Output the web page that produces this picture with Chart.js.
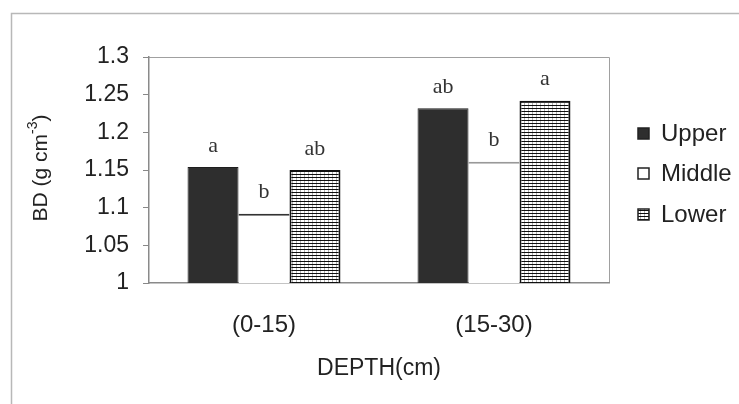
<!DOCTYPE html>
<html>
<head>
<meta charset="utf-8">
<script src="https://cdn.jsdelivr.net/npm/chart.js@4.4.1/dist/chart.umd.min.js"></script>
<style>
    html, body { margin: 0; padding: 0; background: #fff; }
    #wrap { width: 739px; height: 404px; }
</style>
</head>
<body>
<div id="wrap"><canvas id="bd-chart" width="739" height="404"></canvas></div>
<script>
const depths = ['(0-15)', '(15-30)'];
const upperBD = [1.154, 1.232];
const middleBD = [1.092, 1.161];
const lowerBD = [1.150, 1.242];
const upperLetters = ['a', 'ab'];
const middleLetters = ['b', 'b'];
const lowerLetters = ['ab', 'a'];
const yTicks = [1, 1.05, 1.1, 1.15, 1.2, 1.25, 1.3];

const canvas = document.getElementById('bd-chart');
const ctx = canvas.getContext('2d');
const sans = 'Arial, "Liberation Sans", sans-serif';
const serif = '"Times New Roman", "Liberation Serif", serif';

function stripePattern() {
    const c = document.createElement('canvas');
    c.width = 4;
    c.height = 3;
    const g = c.getContext('2d');
    g.fillStyle = '#fff';
    g.fillRect(0, 0, 4, 3);
    g.fillStyle = '#111';
    g.fillRect(0, 0, 4, 1);
    g.fillStyle = 'rgba(0,0,0,0.3)';
    g.fillRect(0, 0, 1, 3);
    return ctx.createPattern(c, 'repeat');
}
const lowerFill = stripePattern();

const letters = [upperLetters, middleLetters, lowerLetters];

const framePlugin = {
    id: 'frame',
    beforeDraw(chart) {
        const c = chart.ctx;
        c.save();
        c.fillStyle = '#fff';
        c.fillRect(0, 0, chart.width, chart.height);
        c.strokeStyle = '#b8b8b8';
        c.lineWidth = 1.5;
        c.beginPath();
        c.moveTo(11.5, chart.height);
        c.lineTo(11.5, 13.5);
        c.lineTo(chart.width, 13.5);
        c.stroke();
        const a = chart.chartArea;
        c.strokeStyle = '#a0a0a0';
        c.lineWidth = 1;
        c.beginPath();
        c.moveTo(a.left, a.top + 0.5);
        c.lineTo(a.right + 0.5, a.top + 0.5);
        c.lineTo(a.right + 0.5, a.bottom);
        c.stroke();
        c.restore();
    },
    afterDraw(chart) {
        const c = chart.ctx;
        c.save();
        // y axis title with superscript
        c.translate(41, 168);
        c.rotate(-Math.PI / 2);
        c.fillStyle = '#222';
        c.textBaseline = 'middle';
        c.font = '21px ' + sans;
        const main = 'BD (g cm';
        const w1 = c.measureText(main).width;
        c.font = '14px ' + sans;
        const sup = '-3';
        const ws = c.measureText(sup).width;
        c.font = '21px ' + sans;
        const w2 = c.measureText(')').width;
        let x = -(w1 + ws + w2) / 2;
        c.fillText(main, x, 0);
        c.font = '14px ' + sans;
        c.fillText(sup, x + w1, -8);
        c.font = '21px ' + sans;
        c.fillText(')', x + w1 + ws, 0);
        c.restore();

        // legend
        c.save();
        c.font = '24px ' + sans;
        c.textBaseline = 'middle';
        const rows = [133, 173, 214];
        chart.data.datasets.forEach((ds, i) => {
            const y = rows[i];
            c.fillStyle = ds.legendFill;
            c.fillRect(638, y - 5, 11, 11);
            c.strokeStyle = '#222';
            c.lineWidth = 1.5;
            c.strokeRect(638, y - 5, 11, 11);
            c.fillStyle = '#222';
            c.fillText(ds.label, 661, y + 1);
        });
        c.restore();
    },
    afterDatasetsDraw(chart) {
        const c = chart.ctx;
        c.save();
        c.font = '22px ' + serif;
        c.fillStyle = '#333';
        c.textAlign = 'center';
        c.textBaseline = 'bottom';
        chart.data.datasets.forEach((ds, i) => {
            chart.getDatasetMeta(i).data.forEach((bar, j) => {
                c.fillText(letters[i][j], bar.x, bar.y - 10);
            });
        });
        c.restore();
    }
};

new Chart(ctx, {
    type: 'bar',
    data: {
        labels: depths,
        datasets: [
            {
                label: 'Upper',
                data: upperBD,
                backgroundColor: '#2e2e2e',
                borderColor: '#1e1e1e',
                borderWidth: 1,
                legendFill: '#2e2e2e'
            },
            {
                label: 'Middle',
                data: middleBD,
                backgroundColor: '#fff',
                borderColor: ['#333', '#999'],
                borderWidth: { top: 2, right: 0, bottom: 0, left: 0 },
                borderSkipped: false,
                legendFill: '#fff'
            },
            {
                label: 'Lower',
                data: lowerBD,
                backgroundColor: lowerFill,
                borderColor: '#111',
                borderWidth: 2,
                legendFill: lowerFill
            }
        ]
    },
    options: {
        responsive: false,
        animation: false,
        devicePixelRatio: 1,
        layout: { padding: { top: 57, right: 130, bottom: 0, left: 0 } },
        plugins: {
            legend: { display: false },
            tooltip: { enabled: false }
        },
        datasets: {
            bar: { categoryPercentage: 0.665, barPercentage: 1.0 }
        },
        scales: {
            x: {
                grid: { display: false, drawTicks: false },
                border: { display: true, color: '#8a8a8a', width: 1.5 },
                ticks: {
                    padding: 28,
                    color: '#222',
                    font: { family: sans, size: 24 }
                },
                title: {
                    display: true,
                    text: 'DEPTH(cm)',
                    color: '#222',
                    font: { family: sans, size: 23 },
                    padding: { top: 0, bottom: 22 }
                },
                afterFit(scale) { scale.height = 121; }
            },
            y: {
                min: 1,
                max: 1.3,
                grid: { display: true, drawOnChartArea: false, drawTicks: true, tickLength: 6, color: '#888' },
                border: { display: true, color: '#8a8a8a', width: 1.5 },
                ticks: {
                    padding: 14,
                    color: '#222',
                    font: { family: sans, size: 23 },
                    callback: v => String(Number(v.toFixed(2)))
                },
                afterBuildTicks(scale) { scale.ticks = yTicks.map(v => ({ value: v })); },
                afterFit(scale) { scale.width = 149; }
            }
        }
    },
    plugins: [framePlugin]
});
</script>
</body>
</html>
